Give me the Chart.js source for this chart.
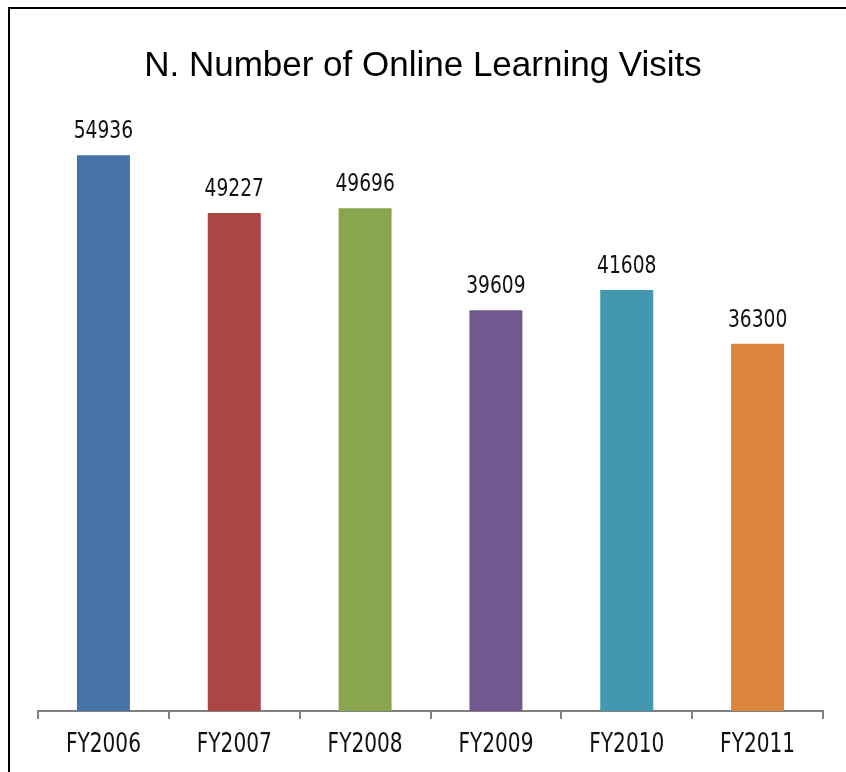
<!DOCTYPE html>
<html>
<head>
<meta charset="utf-8">
<script src="https://cdn.jsdelivr.net/npm/chart.js@4/dist/chart.umd.min.js"></script>
<style>
  html, body { margin: 0; padding: 0; background: #fff; }
  #wrap { position: relative; width: 846px; height: 772px; overflow: hidden; }
  #frame { position: absolute; left: 8px; top: 7px; width: 900px; height: 900px;
           border-top: 2px solid #000; border-left: 2px solid #000; pointer-events: none; }
  canvas { position: absolute; left: 0; top: 0; }
</style>
</head>
<body>
<div id="wrap">
  <canvas id="c" width="846" height="772"></canvas>
  <div id="frame"></div>
</div>
<script>
const categories = ["FY2006", "FY2007", "FY2008", "FY2009", "FY2010", "FY2011"];
const visits = [54936, 49227, 49696, 39609, 41608, 36300];
const barColors = ["#4572A7", "#AA4643", "#89A54E", "#71588F", "#4198AF", "#DB843D"];
const chartTitle = "N. Number of Online Learning Visits";

const narrow = "'DejaVu Sans Condensed', 'Liberation Sans', sans-serif";
const TICK_LEN = 8, TICK_PAD = 13;

function drawCondensed(ctx, text, x, y, sx) {
  ctx.save();
  ctx.translate(x, y);
  ctx.scale(sx, 1);
  ctx.fillText(text, 0, 0);
  ctx.restore();
}

const customText = {
  id: 'customText',
  afterDatasetsDraw(chart) {
    const ctx = chart.ctx;
    const meta = chart.getDatasetMeta(0);
    ctx.save();
    // title, centred on the whole picture
    ctx.font = "35px 'Liberation Sans', Arial, sans-serif";
    ctx.fillStyle = "#000";
    ctx.textAlign = "center";
    ctx.textBaseline = "alphabetic";
    ctx.fillText(chartTitle, chart.width / 2, 76);
    // value labels
    ctx.font = "25px " + narrow;
    ctx.fillStyle = "#111";
    meta.data.forEach((bar, i) => {
      drawCondensed(ctx, String(chart.data.datasets[0].data[i]), bar.x, bar.y - 17, 0.83);
    });
    // category labels
    const xs = chart.scales.x;
    ctx.font = "26px " + narrow;
    ctx.textBaseline = "middle";
    chart.data.labels.forEach((lab, i) => {
      drawCondensed(ctx, lab, xs.getPixelForTick(i), xs.top + 34, 0.86);
    });
    ctx.restore();
  }
};

new Chart(document.getElementById('c'), {
  type: 'bar',
  data: {
    labels: categories,
    datasets: [{
      data: visits,
      backgroundColor: barColors,
      borderWidth: 0,
      categoryPercentage: 1.0,
      barPercentage: 0.405
    }]
  },
  options: {
    responsive: false,
    animation: false,
    layout: { padding: { left: 38, right: 23, top: 104, bottom: 1 } },
    plugins: {
      legend: { display: false },
      tooltip: { enabled: false },
      title: { display: false }
    },
    scales: {
      y: {
        display: false,
        min: 0,
        max: 60000
      },
      x: {
        grid: {
          offset: true,
          drawOnChartArea: false,
          drawTicks: true,
          tickLength: TICK_LEN,
          color: "#808080",
          lineWidth: 2
        },
        border: { display: true, color: "#808080", width: 2 },
        ticks: {
          color: "rgba(0,0,0,0)",
          padding: TICK_PAD,
          font: { family: narrow, size: 26, lineHeight: 1.0 }
        }
      }
    }
  },
  plugins: [customText]
});
</script>
</body>
</html>
